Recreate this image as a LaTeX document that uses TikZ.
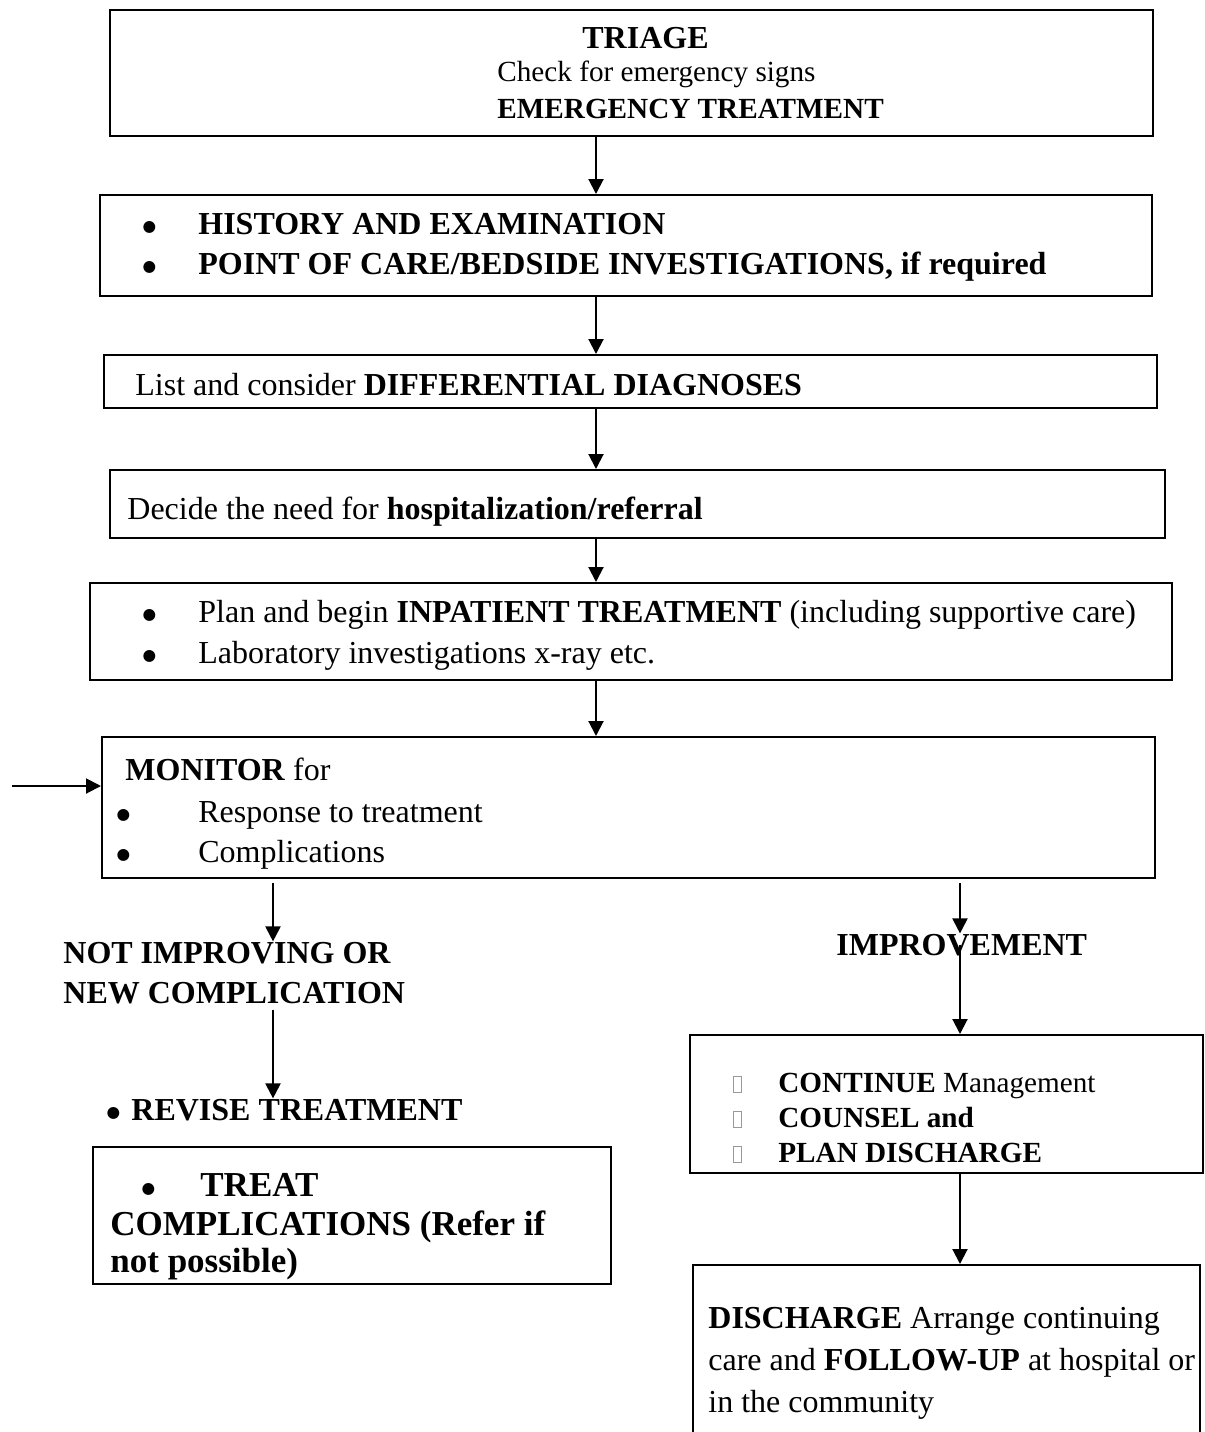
\documentclass[tikz,border=0pt]{standalone}
\usepackage{fontspec}
\setmainfont{Liberation Serif}
\newfontfamily\symfont{DejaVu Sans}
\usetikzlibrary{arrows.meta, fit}
\tikzset{
  box/.style={
    draw,
    line width=1pt,
    inner sep=0pt
  },
  txt/.style={
    anchor=base west,
    inner sep=0pt,
    font=\fontsize{16pt}{20pt}\selectfont
  },
  smalltxt/.style={txt, font=\fontsize{14.6pt}{18pt}\selectfont},
  bigtxt/.style={txt, font=\fontsize{17.5pt}{22pt}\selectfont},
  arrow/.style={-{Triangle[length=7.5pt,width=7.5pt]}, line width=1pt}
}
\newcommand{\blt}[1]{\makebox[#1][l]{\hspace{0.6pt}\raisebox{1.4pt}{\symfont\fontsize{7.8pt}{8pt}\selectfont ●}}}
\newcommand{\sqmark}{{\color{gray!80}\fboxsep=0pt\fboxrule=0.4pt\fbox{\rule{0pt}{7.5pt}\hspace{3.5pt}}}}

\begin{document}
\begin{tikzpicture}[x=0.5pt, y=-0.5pt]
  \useasboundingbox (0,0) rectangle (1205,1432);
  \clip (0,0) rectangle (1205,1432);

  \node[box, fit={(110,10) (1153,136)}] (triage) {};
  \node[box, fit={(100,195) (1152,296)}] (history) {};
  \node[box, fit={(104,355) (1157,408)}] (diff) {};
  \node[box, fit={(110,470) (1165,538)}] (hosp) {};
  \node[box, fit={(90,583) (1172,680)}] (inpat) {};
  \node[box, fit={(102,737) (1155,878)}] (monitor) {};
  \node[box, fit={(93,1147) (611,1284)}] (treat) {};
  \node[box, fit={(690,1035) (1203,1173)}] (cont) {};
  \node[box, fit={(693,1265) (1200,1460)}] (disch) {};

  \node[txt] (triage1) at (582,48) {\textbf{TRIAGE}};
  \node[smalltxt] (triage2) at (497,81) {Check for emergency signs};
  \node[smalltxt] (triage3) at (497,118) {\textbf{EMERGENCY TREATMENT}};

  \node[txt] (history1) at (141,234) {\blt{28.5pt}\textbf{HISTORY AND EXAMINATION}};
  \node[txt] (history2) at (141,274) {\blt{28.5pt}\textbf{POINT OF CARE/BEDSIDE INVESTIGATIONS, if required}};

  \node[txt] (diff1) at (135,395) {List and consider \textbf{DIFFERENTIAL DIAGNOSES}};
  \node[txt] (hosp1) at (127,519) {Decide the need for \textbf{hospitalization/referral}};

  \node[txt] (inpat1) at (141,622) {\blt{28.5pt}Plan and begin \textbf{INPATIENT TREATMENT} (including supportive care)};
  \node[txt] (inpat2) at (141,663) {\blt{28.5pt}Laboratory investigations x-ray etc.};

  \node[txt] (monitor1) at (125,780) {\textbf{MONITOR} for};
  \node[txt] (monitor2) at (115,822) {\blt{41.5pt}Response to treatment};
  \node[txt] (monitor3) at (115,862) {\blt{41.5pt}Complications};

  \node[txt] (notimp1) at (63,963) {\textbf{NOT IMPROVING OR}};
  \node[txt] (notimp2) at (63,1003) {\textbf{NEW COMPLICATION}};
  \node[txt] (revise) at (105,1120) {\blt{13pt}\textbf{REVISE TREATMENT}};

  \node[bigtxt] (treat1) at (140,1196) {\blt{30pt}\textbf{TREAT}};
  \node[bigtxt] (treat2) at (110,1235) {\textbf{COMPLICATIONS (Refer if}};
  \node[bigtxt] (treat3) at (110,1272) {\textbf{not possible)}};

  \node[txt] (improve) at (836,955) {\textbf{IMPROVEMENT}};

  \node[smalltxt] (cont1) at (733,1092) {\makebox[22.5pt][l]{\sqmark}\textbf{CONTINUE} Management};
  \node[smalltxt] (cont2) at (733,1127) {\makebox[22.5pt][l]{\sqmark}\textbf{COUNSEL and}};
  \node[smalltxt] (cont3) at (733,1162) {\makebox[22.5pt][l]{\sqmark}\textbf{PLAN DISCHARGE}};

  \node[txt] (disch1) at (708,1328) {\textbf{DISCHARGE} Arrange continuing};
  \node[txt] (disch2) at (708,1370) {care and \textbf{FOLLOW-UP} at hospital or};
  \node[txt] (disch3) at (708,1412) {in the community};

  \coordinate (mainx) at (596,0);
  \coordinate (leftx) at (273,0);
  \coordinate (rightx) at (960,0);
  \coordinate (feed) at (12,786);

  \draw[arrow] (triage.south -| mainx) -- (history.north -| mainx);
  \draw[arrow] (history.south -| mainx) -- (diff.north -| mainx);
  \draw[arrow] (diff.south -| mainx) -- (hosp.north -| mainx);
  \draw[arrow] (hosp.south -| mainx) -- (inpat.north -| mainx);
  \draw[arrow] (inpat.south -| mainx) -- (monitor.north -| mainx);
  \draw[arrow] (feed) -- (feed -| monitor.west);
  \draw[arrow] ([yshift=-2pt]monitor.south -| leftx) -- (notimp1.north -| leftx);
  \draw[arrow] ([yshift=-3pt]notimp2.south -| leftx) -- (revise.north -| leftx);
  \draw[arrow] ([yshift=-2pt]monitor.south -| rightx) -- (improve.north -| rightx);
  \draw[arrow] (improve.center -| rightx) -- (cont.north -| rightx);
  \draw[arrow] (cont.south -| rightx) -- (disch.north -| rightx);
\end{tikzpicture}
\end{document}
